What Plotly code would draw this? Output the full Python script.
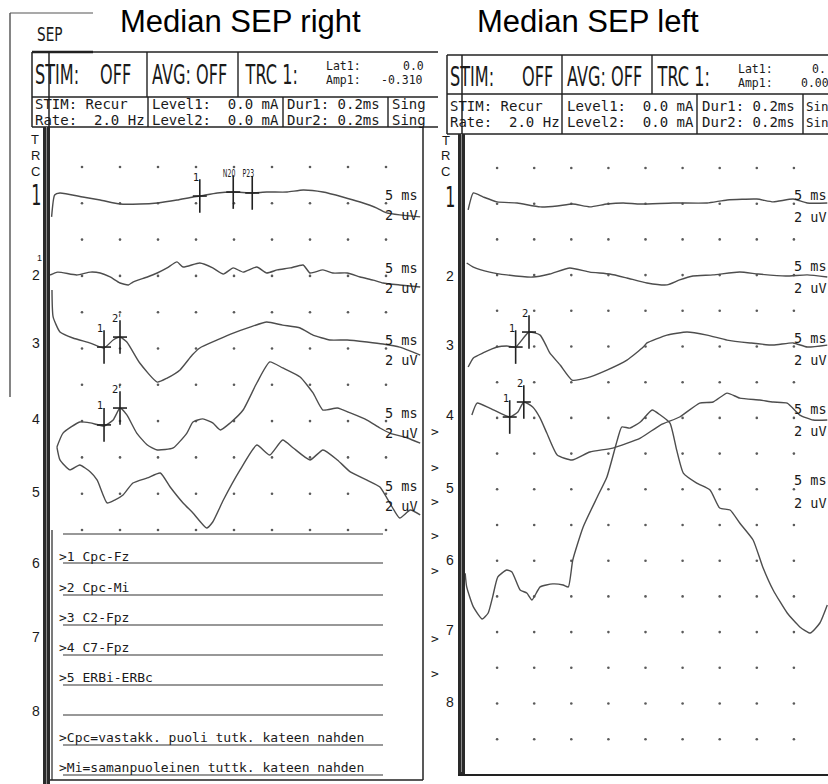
import plotly.graph_objects as go

W, H = 828, 784

# ---------------- data (time in ms, amplitude in uV) ----------------
# Left panel: "Median SEP right"
L1_t = [1.0, 1.4, 2.1, 5.1, 7.4, 10.0, 12.6, 14.9, 17.5, 19.6, 20.5, 22.8, 24.9, 27.4, 29.3, 32.0, 34.1, 36.7, 39.3, 41.6, 43.8, 45.1, 46.8, 49.5]
L1_v = [-0.75, 0.46, 0.57, 0.35, 0.18, -0.04, -0.04, 0.02, 0.18, 0.35, 0.40, 0.57, 0.62, 0.57, 0.62, 0.62, 0.73, 0.62, 0.35, 0.07, -0.26, -0.53, -0.64, -0.75]

L2_t = [0.8, 1.8, 4.3, 6.1, 7.4, 8.7, 10.0, 11.1, 11.7, 13.6, 14.9, 16.2, 17.5, 18.3, 20.5, 22.2, 23.6, 24.9, 26.2, 28.0, 29.3, 30.7, 32.4, 34.1, 35.0, 36.7, 38.0, 39.9, 41.6, 43.3, 44.6, 46.8, 49.5]
L2_v = [0.05, 0.21, 0.05, 0.21, 0.16, -0.06, -0.39, -0.50, -0.34, -0.06, 0.16, 0.44, 0.77, 0.49, 0.71, 0.44, 0.10, 0.44, 0.21, 0.49, 0.16, 0.33, 0.44, 0.60, 0.16, 0.33, 0.16, 0.16, -0.06, -0.23, -0.39, -0.50, -0.61]

L3_t = [1.05, 1.2, 2.1, 3.8, 6.1, 7.9, 9.1, 10.0, 10.9, 12.6, 14.9, 16.2, 17.9, 19.5, 20.5, 22.8, 24.9, 27.1, 29.3, 31.4, 33.7, 35.4, 37.6, 39.9, 42.5, 44.6, 46.8, 49.5]
L3_v = [3.22, 1.74, 0.91, 0.58, 0.30, 0.03, 0.47, 0.63, 0.36, -0.80, -1.85, -1.63, -1.18, -0.36, 0.03, 0.47, 0.85, 1.18, 1.46, 1.29, 1.13, 0.74, 0.47, 0.47, 0.36, 0.25, 0.08, -0.36]

L4_t = [1.7, 2.5, 4.7, 6.1, 7.9, 9.1, 10.0, 10.9, 12.2, 13.6, 14.9, 17.0, 18.8, 19.6, 20.9, 22.2, 23.2, 24.5, 26.2, 28.0, 29.7, 31.4, 33.7, 35.4, 36.7, 38.6, 40.3, 42.5, 44.2, 45.5, 47.8, 49.5]
L4_v = [-1.43, -0.66, -0.05, -0.10, -0.27, 0.06, 0.72, 0.34, -0.66, -1.32, -1.59, -1.48, -0.66, -0.05, 0.12, -0.10, -0.49, -0.10, 0.61, 2.10, 3.26, 2.93, 2.43, 1.55, 0.61, 0.72, 0.45, 0.06, -0.38, -0.66, -0.93, -1.21]

L5_t = [1.7, 2.1, 3.4, 4.7, 6.1, 7.0, 8.3, 9.3, 10.4, 11.7, 13.6, 15.3, 16.6, 18.3, 19.6, 21.4, 22.2, 23.6, 25.8, 28.0, 29.7, 31.4, 32.8, 35.0, 36.7, 38.6, 40.3, 42.5, 44.2, 45.5, 46.8, 48.2, 49.5]
L5_v = [2.57, 1.86, 1.31, 1.58, 1.20, 0.75, -0.51, -0.35, -0.07, 0.59, 0.87, 1.14, 0.37, -0.51, -1.06, -1.89, -1.56, -0.35, 1.31, 2.68, 2.13, 2.96, 2.52, 1.86, 2.41, 1.86, 1.20, 0.75, 0.37, -0.51, -1.34, -0.90, -1.17]

# Right panel: "Median SEP left"
R1_t = [1.1, 1.8, 3.1, 5.0, 7.7, 10.8, 13.1, 15.2, 17.5, 19.8, 22.0, 24.3, 28.7, 33.3, 36.0, 40.0, 42.2, 44.9, 46.8, 49.5]
R1_v = [-0.35, 0.60, 0.38, 0.10, 0.04, -0.18, -0.13, -0.02, -0.18, -0.02, 0.04, -0.02, 0.04, 0.04, 0.21, 0.26, 0.10, 0.26, 0.04, 0.04]

R2_t = [0.9, 1.8, 4.0, 6.3, 9.8, 12.1, 14.8, 17.5, 20.2, 22.5, 25.2, 27.9, 29.6, 31.4, 34.1, 37.7, 40.2, 43.9, 46.8, 49.5]
R2_v = [0.68, 0.45, 0.17, 0.01, -0.11, 0.06, 0.40, 0.17, 0.06, -0.16, -0.44, -0.55, -0.27, -0.05, 0.01, 0.17, 0.06, -0.05, 0.01, -0.11]

R3_t = [1.1, 1.8, 3.1, 5.0, 6.3, 7.5, 9.3, 10.8, 11.7, 12.1, 13.5, 15.1, 17.1, 19.8, 22.5, 24.7, 25.2, 27.9, 30.6, 33.3, 36.0, 39.1, 42.2, 44.9, 46.8, 49.5]
R3_v = [-1.15, -0.64, -0.36, -0.03, 0.03, -0.03, 0.81, 0.64, -0.03, -0.36, -1.04, -1.88, -1.76, -1.32, -0.76, -0.03, 0.20, 0.64, 0.81, 0.64, 0.36, 0.20, 0.08, 0.20, -0.03, 0.08]

R4_t = [1.6, 2.3, 4.0, 6.7, 7.8, 8.6, 9.8, 10.8, 11.7, 13.1, 15.1, 17.5, 20.6, 24.3, 27.0, 29.6, 32.3, 34.1, 36.0, 37.7, 40.4, 42.2, 44.1, 45.8, 47.6, 49.5]
R4_v = [0.16, 0.83, 0.55, 0.05, 0.33, 0.89, 0.61, -0.01, -0.85, -2.08, -2.36, -1.91, -1.69, -1.13, -0.40, 0.05, 0.83, 0.89, 1.39, 1.11, 1.00, 0.89, 0.83, 0.16, -0.12, -0.12]

R5_t = [0.7, 0.9, 1.8, 3.0, 3.8, 4.4, 5.1, 6.3, 7.0, 8.1, 9.0, 9.7, 10.8, 12.5, 13.9, 14.6, 15.2, 16.6, 18.5, 19.8, 21.2, 21.8, 22.9, 24.3, 25.9, 27.0, 28.3, 29.2, 30.1, 31.9, 33.7, 35.0, 36.4, 37.7, 39.5, 40.8, 42.2, 44.1, 45.8, 47.2, 48.5, 49.5]
R5_v = [-4.70, -5.47, -6.59, -7.27, -6.93, -6.03, -4.91, -4.52, -4.63, -5.64, -5.81, -6.20, -5.47, -5.30, -5.36, -5.47, -3.96, -2.11, -0.43, 0.69, 2.76, 3.49, 3.43, 3.77, 4.44, 4.16, 3.71, 2.20, 0.91, 0.35, -0.04, -1.05, -1.16, -1.89, -2.84, -4.35, -5.64, -6.93, -7.71, -8.05, -7.49, -6.48]

# Cursors (channel, time ms, amplitude uV, label)
CUR_L_ch = [1, 1, 1, 3, 3, 4, 4]
CUR_L_t = [20.5, 24.9, 27.4, 7.9, 10.0, 7.9, 10.0]
CUR_L_v = [0.40, 0.62, 0.57, 0.08, 0.63, -0.21, 0.72]
CUR_L_lab = ["1", "N20", "P23", "1", "2'", "1", "2'"]

CUR_R_ch = [3, 3, 4, 4]
CUR_R_t = [7.5, 9.3, 6.7, 8.6]
CUR_R_v = [-0.03, 0.81, 0.05, 0.89]
CUR_R_lab = ["1", "2", "1", "2"]

GRID_T = [5, 10, 15, 20, 25, 30, 35, 40, 45]
GRID_ROWS_L = [0, -2, -4, -6, -8, -10, -12, -14, -16, -18, -20]
GRID_ROWS_R = [0, -2, -4, -6, -8, -10, -12, -14, -16, -18, -20, -22, -24, -26, -28, -30, -32]

CHANNELS = ["1", "2", "3", "4", "5", "6", "7", "8"]
LEGEND_L = [">1 Cpc-Fz", ">2 Cpc-Mi", ">3 C2-Fpz", ">4 C7-Fpz", ">5 ERBi-ERBc", "",
            ">Cpc=vastakk. puoli tutk. kateen nahden", ">Mi=samanpuoleinen tuttk. kateen nahden"]

# ---------------- styling ----------------
LINE = '#4d4d4d'
INK = '#1a1a1a'
MONO = 'DejaVu Sans Mono, Liberation Mono, monospace'
NARROW = 'DejaVu Sans, sans-serif'
SANS = 'Liberation Sans, Arial, sans-serif'
HEAD = 26      # header row font (condensed via post script)
SEPSZ = 19.5
CH1SZ = 29
CURSZ = 10
SMALL = 11.5


def px(x):
    return x / W


def py(y):
    return 1 - y / H


fig = go.Figure()


def base(k):
    return -2 * (2 * k - 1)


left = [(L1_t, L1_v), (L2_t, L2_v), (L3_t, L3_v), (L4_t, L4_v), (L5_t, L5_v)]
right = [(R1_t, R1_v), (R2_t, R2_v), (R3_t, R3_v), (R4_t, R4_v), (R5_t, R5_v)]

# grid dots
for xa, ya, rows in (('x', 'y', GRID_ROWS_L), ('x2', 'y2', GRID_ROWS_R)):
    fig.add_trace(go.Scatter(x=[t for r in rows for t in GRID_T], y=[r for r in rows for t in GRID_T],
                             mode='markers', marker=dict(size=2.6, color='#5a5a5a'),
                             xaxis=xa, yaxis=ya, showlegend=False, hoverinfo='skip'))

for traces, xa, ya in ((left, 'x', 'y'), (right, 'x2', 'y2')):
    for k, (t, v) in enumerate(traces, start=1):
        fig.add_trace(go.Scatter(x=t, y=[base(k) + a for a in v], mode='lines',
                                 line=dict(color=LINE, width=1.4, shape='spline', smoothing=0.5),
                                 xaxis=xa, yaxis=ya, showlegend=False, hoverinfo='skip'))

annotations = []
for chs, ts, vs, labs, xa, ya in ((CUR_L_ch, CUR_L_t, CUR_L_v, CUR_L_lab, 'x', 'y'),
                                   (CUR_R_ch, CUR_R_t, CUR_R_v, CUR_R_lab, 'x2', 'y2')):
    ys = [base(c) + v for c, v in zip(chs, vs)]
    fig.add_trace(go.Scatter(x=ts, y=ys, mode='markers',
                             marker=dict(symbol='line-ns', size=24, line=dict(color='#222', width=1.6)),
                             xaxis=xa, yaxis=ya, showlegend=False, hoverinfo='skip'))
    fig.add_trace(go.Scatter(x=ts, y=ys, mode='markers',
                             marker=dict(symbol='line-ew', size=10, line=dict(color='#222', width=1.6)),
                             xaxis=xa, yaxis=ya, showlegend=False, hoverinfo='skip'))
    for t, y, lab in zip(ts, ys, labs):
        annotations.append(dict(x=t, y=y, xref=xa, yref=ya, text=lab, showarrow=False,
                                xshift=-4, yshift=19, font=dict(family=NARROW, size=CURSZ, color=INK)))

# scale labels
for k in range(1, 6):
    annotations.append(dict(x=44.6, y=base(k) + 0.45, xref='x', yref='y', text='5 ms', showarrow=False,
                            xanchor='left', font=dict(family=MONO, size=13.5, color=INK)))
    annotations.append(dict(x=44.6, y=base(k) - 0.66, xref='x', yref='y', text='2 uV', showarrow=False,
                            xanchor='left', font=dict(family=MONO, size=13.5, color=INK)))
    annotations.append(dict(x=44.7, y=base(k) + 0.5, xref='x2', yref='y2', text='5 ms', showarrow=False,
                            xanchor='left', font=dict(family=MONO, size=13.5, color=INK)))
    annotations.append(dict(x=44.7, y=base(k) - 0.74, xref='x2', yref='y2', text='2 uV', showarrow=False,
                            xanchor='left', font=dict(family=MONO, size=13.5, color=INK)))


def txt(x, y, s, size, family=MONO, anchor='left', color=INK):
    annotations.append(dict(x=px(x), y=py(y), xref='paper', yref='paper', text=s, showarrow=False,
                            xanchor=anchor, yanchor='middle', font=dict(family=family, size=size, color=color)))


# titles
txt(240, 21, 'Median SEP right', 31, SANS, 'center', '#000')
txt(588, 21, 'Median SEP left', 31, SANS, 'center', '#000')
txt(35, 35, 'SEP', SEPSZ, NARROW)

# header row 1
for (xs, xo, xa, xt, y) in ((33, 98, 150, 243, 75), (448, 520, 565, 655, 77)):
    txt(xs, y, 'STIM:', HEAD, NARROW)
    txt(xo, y, 'OFF', HEAD, NARROW)
    txt(xa, y, 'AVG: OFF', HEAD, NARROW)
    txt(xt, y, 'TRC 1:', HEAD, NARROW)
txt(324, 66, 'Lat1:', SMALL)
txt(401, 66, '0.0', SMALL)
txt(324, 80, 'Amp1:', SMALL)
txt(379, 80, '-0.310', SMALL)
txt(736, 69, 'Lat1:', SMALL)
txt(810, 69, '0.', SMALL)
txt(736, 83, 'Amp1:', SMALL)
txt(799, 83, '0.00', SMALL)

# header row 2
for (x0, xl, xd, xs, y1, y2, sing) in ((33, 150, 285, 390, 104, 120, 'Sing'), (448, 565, 700, 804, 106, 122, 'Sin')):
    txt(x0, y1, 'STIM: Recur', 14)
    txt(x0, y2, 'Rate:  2.0 Hz', 14)
    txt(xl, y1, 'Level1:  0.0 mA', 14)
    txt(xl, y2, 'Level2:  0.0 mA', 14)
    txt(xd, y1, 'Dur1: 0.2ms', 14)
    txt(xd, y2, 'Dur2: 0.2ms', 14)
    txt(xs, y1, sing, 12.5 if sing == 'Sin' else 14)
    txt(xs, y2, sing, 12.5 if sing == 'Sin' else 14)

# TRC letters and channel numbers
for x0, ys in ((35, (139, 155, 171)), (446, (140, 155, 171))):
    for s, y in zip("TRC", ys):
        txt(x0, y, s, 13, SANS, 'center')
for x0, ys in ((36, (195, 275, 343, 419, 492, 563, 637, 711)), (450, (197, 276, 345, 415, 488, 560, 630, 702))):
    for i, (s, y) in enumerate(zip(CHANNELS, ys)):
        if i == 0:
            txt(x0, y, s, CH1SZ, NARROW, 'center')
        else:
            txt(x0, y, s, 14, SANS, 'center')
txt(39, 258, '1', 9, SANS, 'center')

# legend box texts
for s, y in zip(LEGEND_L, (556, 587, 617, 647, 677, 707, 737, 767)):
    if s:
        txt(57, y, s, 13)
for y in (432, 467, 502, 535, 570, 638, 673):
    txt(429, y, '>', 13)

# ---------------- frame shapes ----------------
shapes = []


def hline(x0, x1, y, w=1.4, c='#222'):
    shapes.append(dict(type='line', xref='paper', yref='paper', x0=px(x0), x1=px(x1), y0=py(y), y1=py(y),
                       line=dict(color=c, width=w)))


def vline(x, y0, y1, w=1.4, c='#222'):
    shapes.append(dict(type='line', xref='paper', yref='paper', x0=px(x), x1=px(x), y0=py(y0), y1=py(y1),
                       line=dict(color=c, width=w)))


def rect(x0, y0, x1, y1, fill='#2a2a2a'):
    shapes.append(dict(type='rect', xref='paper', yref='paper', x0=px(x0), x1=px(x1), y0=py(y0), y1=py(y1),
                       fillcolor=fill, line=dict(width=0), layer='above'))


# left outer scan lines
vline(10, 13, 397, 1.2, '#333')
hline(10, 93, 13, 1.2, '#555')
hline(32, 93, 52, 2.5)
# left header
for y in (52, 97, 127):
    hline(32, 438, y, 1.5)
vline(32, 52, 127, 1.5)
vline(147, 52, 97)
vline(238, 52, 97)
vline(148, 97, 127)
vline(283, 97, 127)
vline(388, 97, 127)
vline(49, 52, 127, 1.5)
# left trace frame
rect(43, 127, 50, 784)
vline(46.5, 127, 784, 1, '#8a8a8a')
vline(423, 127, 780, 1.5)
hline(50, 423, 780, 1.5)
vline(52, 530, 780, 1.2)
for y in (534, 563, 595, 625, 655, 685, 715, 745, 775):
    hline(63, 383, y, 1.2, '#333')

# right header
for y in (55, 94, 134):
    hline(447, 828, y, 1.5)
vline(447, 55, 134, 1.5)
vline(562, 55, 94)
vline(652, 55, 94)
vline(562, 94, 134)
vline(697, 94, 134)
vline(803, 94, 134)
vline(462, 55, 134, 1.5)
# right trace frame
rect(458, 134, 465, 775)
vline(461.5, 134, 772, 1, '#8a8a8a')
hline(458, 828, 775, 2)

axis_off = dict(visible=False, showgrid=False, zeroline=False, fixedrange=True)
fig.update_layout(
    width=W, height=H, margin=dict(l=0, r=0, t=0, b=0),
    paper_bgcolor='white', plot_bgcolor='white', showlegend=False,
    xaxis=dict(domain=[44 / W, 424 / W], range=[0, 50], anchor='y', **axis_off),
    yaxis=dict(domain=[0, 1], range=[(167 - 784) / 18.15, 167 / 18.15], anchor='x', **axis_off),
    xaxis2=dict(domain=[460 / W, 1], range=[0, 368 / 7.42], anchor='y2', **axis_off),
    yaxis2=dict(domain=[0, 1], range=[(168 - 784) / 17.85, 168 / 17.85], anchor='x2', **axis_off),
    shapes=shapes, annotations=annotations,
)

# condense the plotter-style lettering (text stays real SVG text, only narrowed horizontally)
CONDENSE = [["STIM:", HEAD, 0.62, "left"], ["OFF", HEAD, 0.62, "left"], ["AVG: OFF", HEAD, 0.62, "left"],
            ["TRC 1:", HEAD, 0.62, "left"], ["SEP", SEPSZ, 0.7, "left"], ["1", CH1SZ, 0.55, "center"],
            ["N20", CURSZ, 0.62, "center"], ["P23", CURSZ, 0.62, "center"]]
post = """
var rules = %s;
function condense(){
  document.querySelectorAll('text.annotation-text').forEach(function(el){
    var fs = parseFloat(el.style.fontSize);
    rules.forEach(function(r){
      if (el.textContent === r[0] && Math.abs(fs - r[1]) < 0.01) {
        el.style.transformBox = 'fill-box';
        el.style.transformOrigin = r[3] + ' center';
        el.style.transform = 'scaleX(' + r[2] + ')';
      }
    });
  });
}
condense();
setTimeout(condense, 50);
""" % str(CONDENSE).replace("'", '"')

fig.write_html("out.html", post_script=post)
